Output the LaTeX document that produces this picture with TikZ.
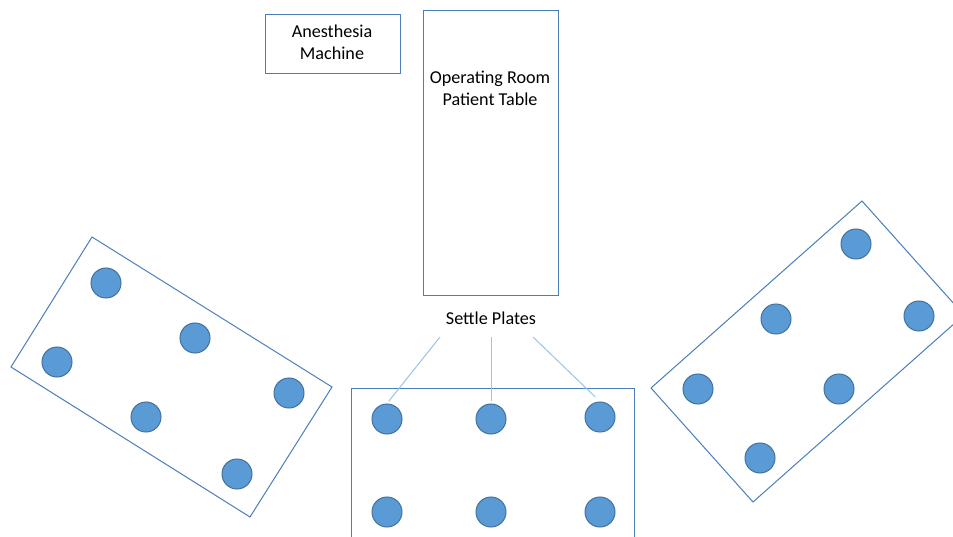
\documentclass[tikz,border=0pt]{standalone}
\usepackage{fontspec}
\setmainfont{Carlito}
\definecolor{roomedge}{HTML}{4A7EBB}
\definecolor{platefill}{HTML}{5B9BD5}
\definecolor{plateedge}{HTML}{41719C}
\definecolor{leadline}{HTML}{9DC3E6}

\begin{document}
\begin{tikzpicture}[x=.75pt,y=.75pt,text=black,
  outline/.style={draw=roomedge,line width=.75pt},
  plate/.style={circle,draw=plateedge,fill=platefill,line width=.75pt,minimum size=22.5pt,inner sep=0pt},
  label/.style={font=\fontsize{13.6}{16.5}\selectfont,align=center},
  lead/.style={draw=leadline,line width=.75pt}]
\useasboundingbox (0,0) rectangle (953,536);
\fill[white] (0,0) rectangle (953,536);
\clip (0,0) rectangle (953,536);

% EQUIPMENT AT THE HEAD OF THE ROOM
\draw[outline] (265,462) rectangle (400,521);
\node[label] (anesthesia) at (332,494) {Anesthesia\\Machine};
\draw[outline] (423,240) rectangle (558,525);
\node[label] (table) at (490,448) {Operating Room\\Patient Table};

% LEFT RACK, TILTED
\draw[outline] (92,299)--(332,149)--(250,19)--(11,169)--cycle;
\node[plate] (lp1) at (106,253) {};
\node[plate] (lp2) at (195,198) {};
\node[plate] (lp3) at (57,174) {};
\node[plate] (lp4) at (289,143) {};
\node[plate] (lp5) at (146,119) {};
\node[plate] (lp6) at (237,62) {};

% CENTRE RACK, RUNS OFF THE BOTTOM
\draw[outline] (351,-5)--(351,148)--(634,148)--(634,-5);
\node[plate] (mp1) at (387,117) {};
\node[plate] (mp2) at (491,117) {};
\node[plate] (mp3) at (600,119) {};
\node[plate] (mp4) at (387,24) {};
\node[plate] (mp5) at (491,24) {};
\node[plate] (mp6) at (600,24) {};

% RIGHT RACK, TILTED THE OTHER WAY
\draw[outline] (651,148)--(862,335)--(964,221)--(753,34)--cycle;
\node[plate] (rp1) at (856,292) {};
\node[plate] (rp2) at (776,217) {};
\node[plate] (rp3) at (919,220) {};
\node[plate] (rp4) at (698,147) {};
\node[plate] (rp5) at (839,147) {};
\node[plate] (rp6) at (760,78) {};

% LABEL AND ITS LEADER LINES
\node[label] (settle) at (491,218) {Settle Plates};
\coordinate (s1) at (440,199);
\coordinate (s2) at (491,199);
\coordinate (s3) at (533,199);
\draw[lead,shorten >=2pt] (s1)--(mp1.north);
\draw[lead,shorten >=2pt] (s2)--(mp2.north);
\draw[lead,shorten >=5pt] (s3)--(mp3.north);
\end{tikzpicture}
\end{document}
